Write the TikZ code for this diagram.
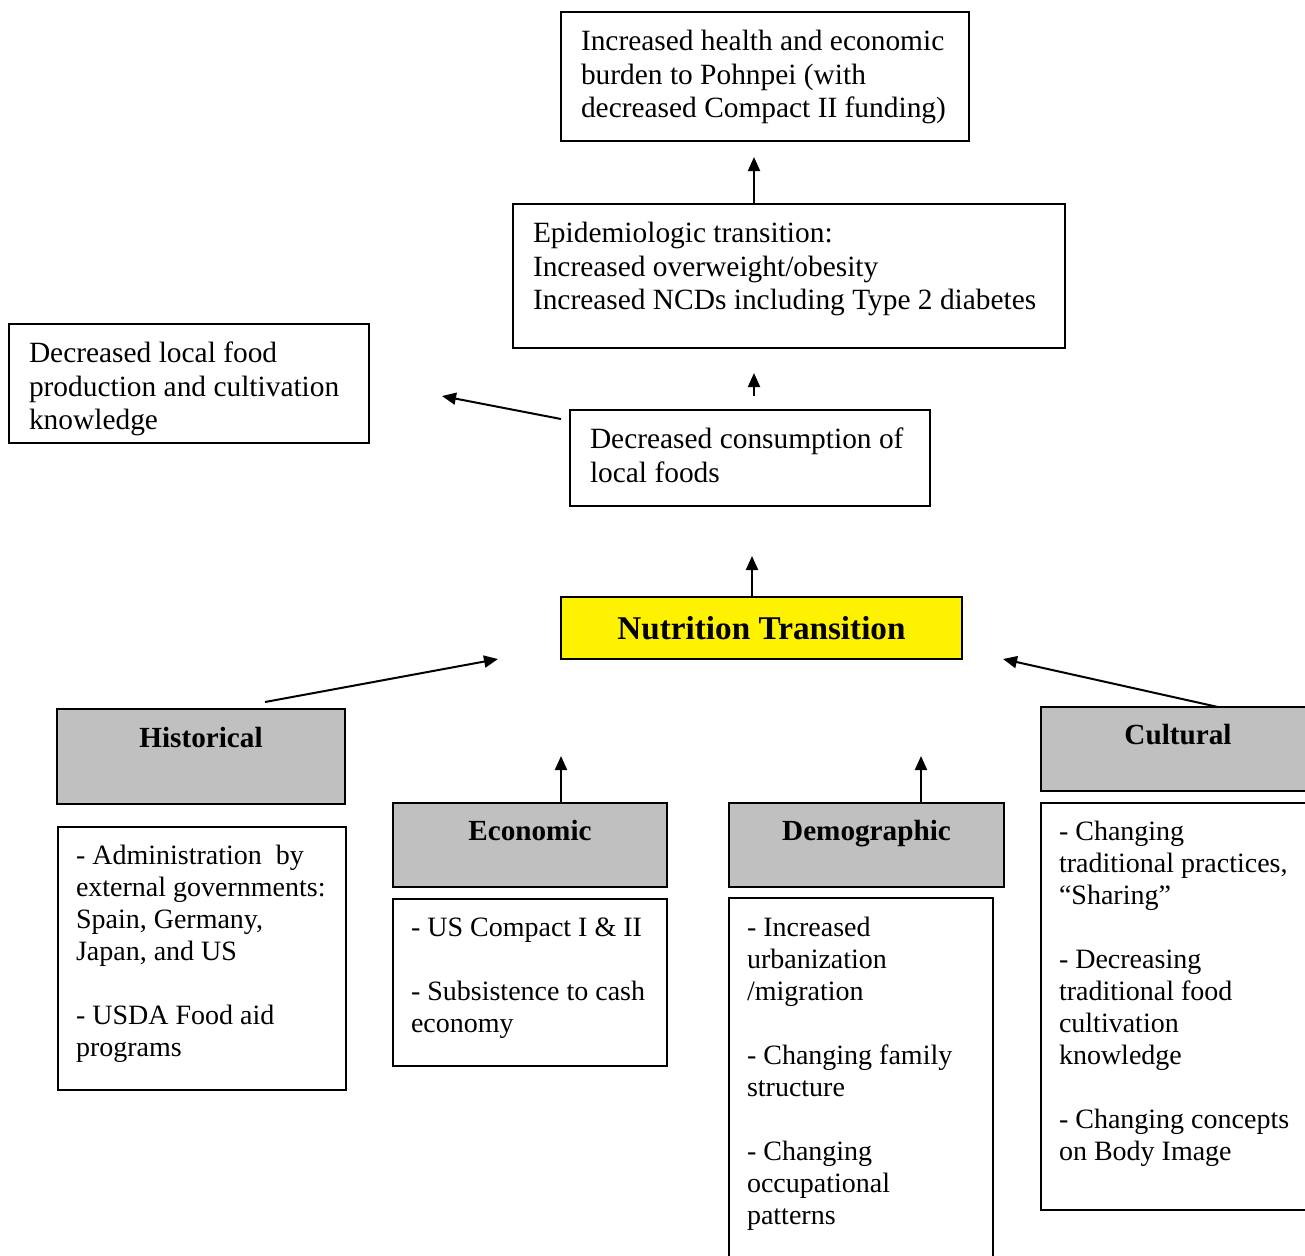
\documentclass[tikz,border=0pt]{standalone}
\usepackage{fontspec}
\setmainfont{Liberation Serif}
\usetikzlibrary{arrows.meta,calc,positioning}
\definecolor{headgray}{RGB}{192,192,192}
\tikzset{
  box/.style={draw, line width=1pt, anchor=north west, align=flush left,
        inner ysep=0pt, outer sep=0pt, font=\fontsize{14.7pt}{16.75pt}\selectfont},
  list/.style={box, font=\fontsize{14pt}{16pt}\selectfont},
  head/.style={box, fill=headgray, align=center,
        font=\fontsize{14.6pt}{16.5pt}\selectfont\bfseries},
  arr/.style={-{Triangle[length=7pt,width=6pt]}, line width=1pt}
}

\begin{document}
\begin{tikzpicture}[x=0.5pt, y=-0.5pt]
        \path[use as bounding box] (0,0) rectangle (1305,1255);
        \clip (0,0) rectangle (1305,1255);

        % upper chain
        \node[box, inner xsep=10pt, text width=184pt, text height=19.25pt, text depth=45.25pt] (burden) at (561,12)
            {Increased health and economic\\ burden to Pohnpei (with\\ decreased Compact II funding)};

        \node[box, inner xsep=10pt, text width=256pt, text height=19.25pt, text depth=52.75pt] (epi) at (513,204)
            {Epidemiologic transition:\\ Increased overweight/obesity\\ Increased NCDs including Type 2 diabetes};

        \node[box, inner xsep=10pt, text width=160pt, text height=19.25pt, text depth=40.25pt] (local) at (9,324)
            {Decreased local food\\ production and cultivation\\ knowledge};

        \node[box, inner xsep=10pt, text width=160pt, text height=19.25pt, text depth=28.75pt] (cons) at (570,410)
            {Decreased consumption of\\ local foods};

        \node[draw, line width=1pt, fill=yellow, inner sep=0pt, minimum width=200.5pt, minimum height=31pt,
            font=\fontsize{16.6pt}{19pt}\selectfont\bfseries] (nutri) at (761.5,628)
            {Nutrition Transition};

        % factor headings
        \node[head, inner xsep=9pt, text width=126pt, text height=19.25pt, text depth=28.25pt] (hist) at (57,709)
            {Historical};
        \node[head, inner xsep=9pt, text width=119pt, text height=18.75pt, text depth=23.25pt] (econ) at (393,803)
            {Economic};
        \node[head, inner xsep=9pt, text width=119.5pt, text height=18.75pt, text depth=23.25pt] (demo) at (729,803)
            {Demographic};
        \node[head, inner xsep=9pt, text width=119pt, text height=18.75pt, text depth=23.25pt] (cult) at (1041,707)
            {Cultural};

        % factor lists
        \node[list, inner xsep=9pt, text width=126pt, text height=18.75pt, text depth=112.75pt] (histlist) at (58,827)
            {- Administration\ \ by\\ external governments:\\ Spain, Germany,\\ Japan, and US\\[16pt]
             - USDA Food aid\\ programs};
        \node[list, inner xsep=9pt, text width=119pt, text height=18.75pt, text depth=64.75pt] (econlist) at (393,899)
            {- US Compact I \& II\\[16pt] - Subsistence to cash\\ economy};
        \node[list, inner xsep=9pt, text width=114pt, text height=19.25pt, text depth=166.75pt] (demolist) at (729,898)
            {- Increased\\ urbanization\\ /migration\\[16pt] - Changing family\\ structure\\[16pt]
             - Changing\\ occupational\\ patterns};
        \node[list, inner xsep=9pt, text width=124pt, text height=18.75pt, text depth=184.75pt] (cultlist) at (1041,803)
            {- Changing\\ traditional practices,\\ ``Sharing''\\[16pt] - Decreasing\\ traditional food\\
             cultivation\\ knowledge\\[16pt] - Changing concepts\\ on Body Image};

        % free arrow ends
        \coordinate (burdenin) at (754,157);
        \coordinate (epiin) at (754,373);
        \coordinate (localin) at (442,396);
        \coordinate (consin) at (752,556);
        \coordinate (nutriwest) at (498,659);
        \coordinate (nutrieast) at (1003,659);
        \coordinate (econin) at (561,756);
        \coordinate (demoin) at (921,756);

        \draw[arr] (epi.north -| burdenin) -- (burdenin);
        \draw[arr, shorten <=7pt] (cons.north -| epiin) -- (epiin);
        \draw[arr] ($(cons.north west)+(-9,9)$) -- (localin);
        \draw[arr] (nutri.north -| consin) -- (consin);
        \draw[arr] ($(hist.north)+(64,-7)$) -- (nutriwest);
        \draw[arr] ($(cult.north west)+(177,0)$) -- (nutrieast);
        \draw[arr] (econ.north west -| econin) -- (econin);
        \draw[arr] (demo.north west -| demoin) -- (demoin);

    \end{tikzpicture}
\end{document}
